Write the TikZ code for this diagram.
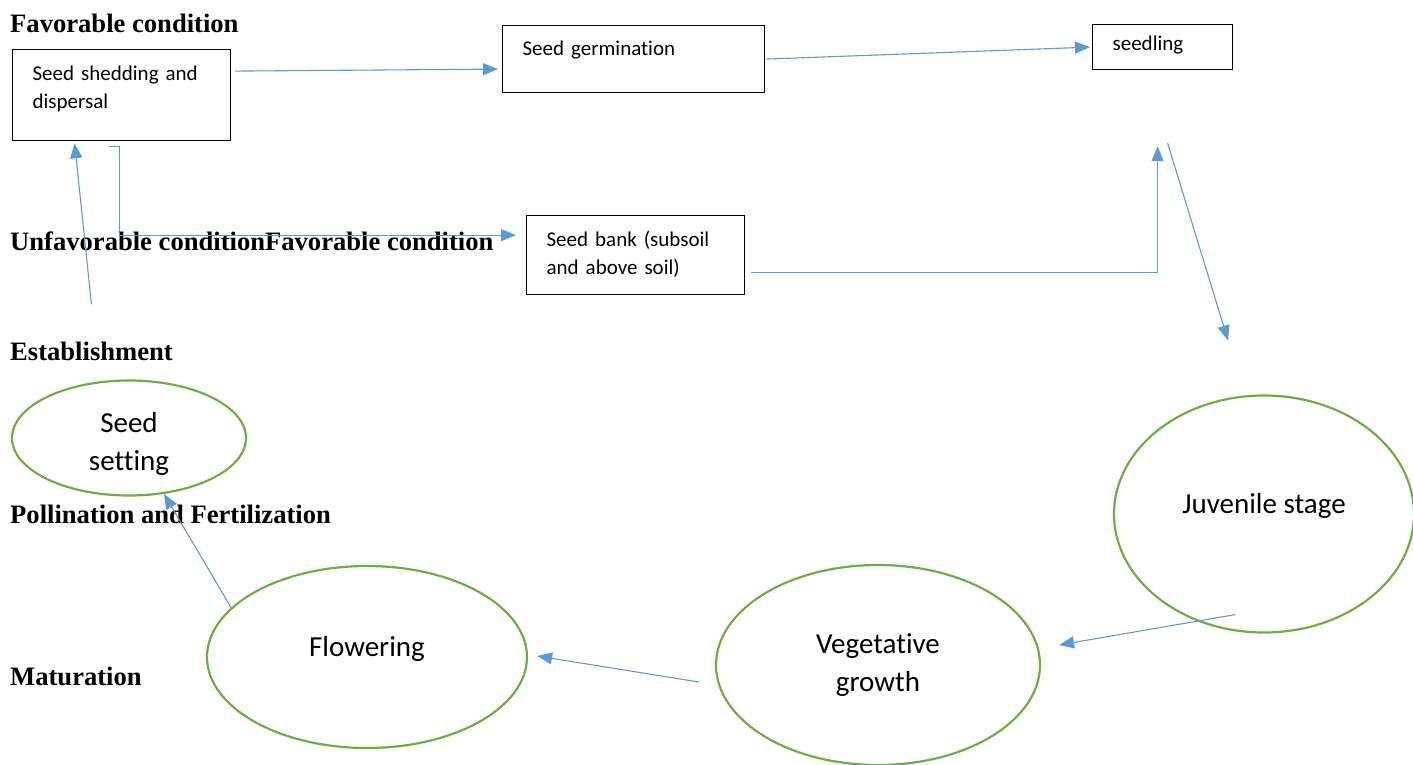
\documentclass[tikz,border=0pt]{standalone}
\usepackage{fontspec}
\setmainfont{Liberation Serif}
\newfontfamily\calibri[Ligatures=NoCommon]{Carlito}
\usetikzlibrary{arrows.meta,shapes.geometric}
\definecolor{flowblue}{HTML}{5B9BD5}
\definecolor{leafgreen}{HTML}{70AD47}
\tikzset{
  stagebox/.style={draw, line width=1.2pt, anchor=north west, align=left, inner xsep=20pt, inner ysep=0pt, font=\calibri\fontsize{21}{28}\selectfont},
  phase/.style={ellipse, draw=leafgreen, line width=2.2pt, inner sep=0pt, align=center, font=\calibri\fontsize{29}{38}\selectfont},
  cond/.style={anchor=base west, inner sep=0pt, font=\bfseries\fontsize{26.6}{32}\selectfont},
  flow/.style={draw=flowblue, line width=1.1pt, -{Triangle[length=15pt,width=12pt]}}
}
\begin{document}
\begin{tikzpicture}[x=1pt, y=-1pt]
\useasboundingbox (0,0) rectangle (1413,765);
% condition labels
\node[cond] (favtop) at (10,33) {Favorable condition};
\node[cond] (unfav) at (10,250) {Unfavorable conditionFavorable condition};
\node[cond] (establish) at (10,360) {Establishment};
\node[cond] (pollin) at (10,523) {Pollination and Fertilization};
\node[cond] (matur) at (10,685) {Maturation};
% boxes
\node[stagebox, text width=178pt, text height=31pt, text depth=60pt] (shed) at (12,49) {Seed shedding and\\dispersal};
\node[stagebox, text width=222pt, text height=30pt, text depth=37pt] (germ) at (502,25) {Seed germination};
\node[stagebox, text width=100pt, text height=26pt, text depth=19pt] (seedling) at (1092,24) {seedling};
\node[stagebox, text width=178pt, text height=31pt, text depth=48pt] (bank) at (526,215) {Seed bank (subsoil\\and above soil)};
% stages
\node[phase, minimum width=234pt, minimum height=115pt, text height=69pt] (setting) at (129,438) {Seed\\setting};
\node[phase, minimum width=300pt, minimum height=237pt, text depth=22pt] (juvenile) at (1264,514) {Juvenile stage};
\node[phase, minimum width=324pt, minimum height=200pt] (vegetative) at (878,665) {Vegetative\\growth};
\node[phase, minimum width=320pt, minimum height=182pt, text depth=22pt] (flowering) at (367,657) {Flowering};
% arrows
\draw[flow] ([shift={(4,-24)}]shed.east) -- ([shift={(-4,10)}]germ.west);
\draw[flow] ([shift={(1,0)}]germ.east) -- ([shift={(-2,0)}]seedling.west);
\draw[flow] ([shift={(-13,5)}]shed.south) -- ++(11,0) |- ([shift={(-10,-20)}]bank.west);
\draw[flow] ([shift={(0,-37)}]establish.north) -- ([shift={(-47,2)}]shed.south);
\draw[flow] ([shift={(6,17)}]bank.east) -| ([shift={(-5,76)}]seedling.south);
\draw[flow] ([shift={(5,73)}]seedling.south) -- ([shift={(-36,-54)}]juvenile.north);
\draw[flow] ([shift={(-29,-19)}]juvenile.south) -- ([shift={(18,-20)}]vegetative.east);
\draw[flow] ([shift={(-16,17)}]vegetative.west) -- ([shift={(9,-1)}]flowering.east);
\draw[flow] (flowering.160) -- (setting.302);
\end{tikzpicture}
\end{document}
